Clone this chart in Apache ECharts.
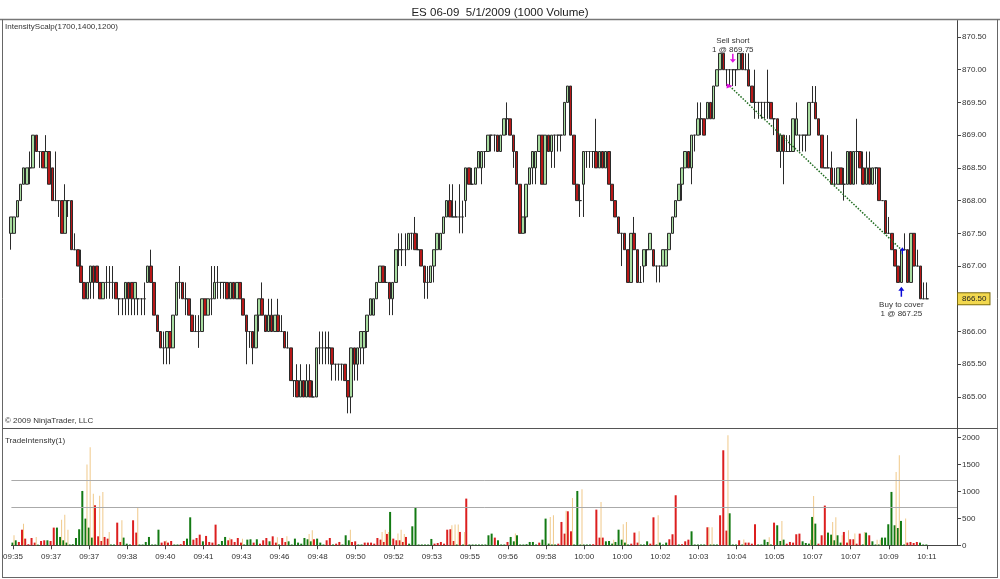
<!DOCTYPE html>
<html><head><meta charset="utf-8">
<script src="https://cdn.jsdelivr.net/npm/echarts@6/dist/echarts.min.js"></script>
<style>html,body{margin:0;padding:0;background:#fff}#c{width:1000px;height:579px}</style>
</head><body><div id="c"></div>
<script>
const tickLabels = ['09:35','09:37','09:37','09:38','09:40','09:41','09:43','09:46','09:48','09:50','09:52','09:53','09:55','09:56','09:58','10:00','10:00','10:02','10:03','10:04','10:05','10:07','10:07','10:09','10:11'];

const opens = [
867.5,867.5,867.75,868,868.25,868.25,868.5,868.5,869,868.75,
868.75,868.5,868.75,868.5,868,868,868,867.5,868,868,
867.25,867.25,867,866.75,866.5,866.75,867,867,866.75,866.5,
866.75,866.75,866.75,866.75,866.5,866.5,866.5,866.75,866.75,866.5,
866.5,866.5,866.5,866.75,867,866.75,866.25,866,865.75,865.75,
866,865.75,866.25,866.75,866.75,866.5,866.5,866.25,866,866,
866,866.5,866.25,866.5,866.5,866.75,866.75,866.75,866.75,866.5,
866.75,866.5,866.75,866.5,866.25,866,866,865.75,866.25,866.5,
866.25,866,866.25,866,866.25,866,866,865.75,865.75,865.25,
865.25,865,865.25,865,865.25,865,865,865.75,865.75,865.75,
865.75,865.75,865.5,865.5,865.5,865.5,865.25,865,865.75,865.5,
865.75,865.75,866,866.25,866.25,866.5,866.75,867,866.75,866.75,
866.5,866.75,867.25,867.25,867.25,867.25,867.5,867.5,867.25,867.25,
867,866.75,866.75,867,867.25,867.25,867.5,867.75,868,867.75,
867.75,867.75,867.75,868,868.5,868.25,868.25,868.5,868.5,868.75,
868.75,869,869,869,868.75,869,869.25,869.25,869,868.75,
868.25,867.5,867.75,868.25,868.5,868.5,868.75,869,868.25,869,
868.75,869,869,869,869,869.5,869.75,869,868.25,868,
868.25,868.75,868.75,868.75,868.75,868.5,868.75,868.5,868.75,868.25,
868,867.75,867.5,867.5,867.25,866.75,867.5,867.25,866.75,867,
867.25,867.25,867.25,867,867,867,867,867.25,867.5,867.75,
868,868.25,868.5,868.75,868.5,869,869,869.25,869.25,869.25,
869.5,869.25,869.75,870,870.25,870,870,870,870,870,
870.25,870,870,869.75,869.5,869.5,869.5,869.5,869.5,869.5,
869.25,869.25,868.75,869,868.75,868.75,868.75,869,869,869,
869,869,869.5,869.5,869.25,869,868.5,868.5,868.5,868.25,
868.25,868.5,868.25,868.25,868.75,868.25,868.75,868.75,868.5,868.25,
868.5,868.25,868.5,868.5,868,868,867.5,867.5,867.25,867,
866.75,867.25,867.25,866.75,867.5,867,867,866.5,866.5];

const closes = [
867.75,867.75,868,868.25,868.5,868.5,868.5,869,868.75,868.75,
868.5,868.75,868.25,868,868,868,867.5,868,868,867.25,
867.25,867,866.75,866.5,866.75,867,866.75,866.75,866.5,866.75,
866.75,866.75,866.75,866.5,866.5,866.5,866.75,866.5,866.5,866.75,
866.5,866.5,866.5,867,866.75,866.25,866,865.75,865.75,866,
865.75,866.25,866.75,866.75,866.5,866.5,866.25,866,866,866,
866.5,866.25,866.5,866.5,866.75,866.75,866.75,866.75,866.5,866.75,
866.5,866.75,866.5,866.25,866,866,865.75,866.25,866.5,866.25,
866,866.25,866,866.25,866,866,865.75,865.75,865.25,865.25,
865,865.25,865,865.25,865,865,865.75,865.75,865.75,865.75,
865.75,865.5,865.5,865.5,865.5,865.25,865,865.75,865.5,865.75,
866,866,866.25,866.5,866.5,866.75,867,866.75,866.75,866.5,
866.75,867.25,867.25,867.25,867.25,867.5,867.5,867.25,867.25,867,
866.75,866.75,867,867.25,867.5,867.5,867.75,868,867.75,867.75,
867.75,867.75,867.75,868.5,868.25,868.25,868.5,868.75,868.75,868.75,
869,869,869,868.75,869,869.25,869.25,869,868.75,868.25,
867.5,867.75,868.25,868.5,868.75,868.75,869,868.25,869,868.75,
869,869,869,869,869.5,869.75,869,868.25,868,868,
868.75,868.75,868.75,868.75,868.5,868.75,868.5,868.75,868.25,868,
867.75,867.5,867.5,867.25,866.75,867.5,867.25,866.75,866.75,867.25,
867.25,867.5,867,867,867,867.25,867.25,867.5,867.75,868,
868.25,868.5,868.75,868.5,869,869,869.25,869.25,869,869.5,
869.25,869.75,870,870.25,870,870,870,870,870,870.25,
870,870,869.75,869.5,869.5,869.5,869.5,869.5,869.5,869.25,
869.25,868.75,869,868.75,868.75,868.75,869.25,869.25,869,869,
869,869.5,869.5,869.25,869,868.5,868.5,868.5,868.25,868.25,
868.5,868.25,868.25,868.75,868.25,868.75,868.75,868.5,868.25,868.5,
868.25,868.5,868.5,868,868,867.5,867.5,867.25,867,866.75,
867.25,867.25,866.75,867.5,867,867,866.5,866.5,866.5];

const lows = [
867.25,867.5,867.75,868,868.25,868.25,868.25,868.5,868.75,868.5,
868.5,868.5,868.25,868,868,867.75,867.5,867.5,867.75,867.25,
867.25,867,866.75,866.5,866.5,866.5,866.5,866.75,866.5,866.5,
866.5,866.5,866.5,866.5,866.25,866.25,866.25,866.25,866.25,866.25,
866.25,866.25,866.25,866.75,866.75,866.25,866,865.75,865.5,865.5,
865.5,865.75,866.25,866.5,866.5,866.25,866.25,866,866,865.75,
866,866.25,866.25,866.25,866.5,866.5,866.5,866.5,866.5,866.5,
866.5,866.5,866.5,866.25,865.5,865.75,865.5,865.75,866,866.25,
866,866,866,866,866,866,865.75,865.75,865.25,865,
865,865,865,865,865,865,865,865.5,865.5,865.5,
865.5,865.25,865.25,865.25,865.25,865.25,864.75,864.75,865.25,865.25,
865.5,865.5,865.75,866.25,866.25,866.5,866.75,866.75,866.75,866.25,
866.25,866.75,867,867,867,867.25,867.25,867.25,867.25,867,
866.5,866.5,866.75,866.75,867.25,867.25,867.5,867.75,867.75,867.75,
867.75,867.5,867.5,867.75,868.25,868.25,868.25,868.5,868.25,868.5,
868.75,868.75,868.75,868.75,868.75,869,869,869,868.5,868.25,
867.5,867.5,867.5,868.25,868.25,868.25,868.75,868.25,868.25,868.75,
868.5,868.5,868.75,868.75,869,869.5,869,868.25,868,867.75,
867.75,868.5,868.5,868.5,868.5,868.5,868.5,868.5,868.25,868,
867.75,867.5,867,867.25,866.75,866.75,867.25,866.75,866.75,866.75,
867,867.25,867,866.75,866.75,867,867,867.25,867.5,867.75,
868,868,868.5,868.5,868.25,868.75,869,869,869,869.25,
869.25,869.25,869.75,870,870,869.75,869.75,869.75,869.75,870,
870,870,869.75,869.5,869.25,869.25,869.25,869.25,869.25,869.25,
869,868.75,868.5,868.25,868.75,868.75,868.75,869,868.75,868.75,
868.75,869,869.5,869.25,869,868.5,868.5,868.5,868.25,868.25,
868.25,868.25,868,868.25,868.25,868.25,868.25,868.5,868.25,868.25,
868.25,868.25,868.25,868,868,867.5,867.5,867.25,867,866.75,
866.75,867.25,866.75,866.75,867,867,866.5,866.5,866.5];

const highs = [
867.75,867.75,868,868.25,868.5,868.5,868.75,869,869,868.75,
868.75,869,868.75,868.5,868.75,868,868,868.25,868,868,
867.5,867.25,867.25,866.75,866.75,867,867,867,866.75,866.75,
867,867,867,866.75,866.5,866.5,866.75,866.75,866.75,866.75,
866.5,866.5,866.75,867,867.25,866.75,866.25,866,866,866,
866,866.25,866.75,867,866.75,866.75,866.5,866.25,866.25,866.25,
866.5,866.5,866.5,867,867,867,866.75,866.75,866.75,866.75,
866.75,866.75,866.75,866.5,866.25,866,866,866.25,866.5,866.75,
866.25,866.5,866.5,866.25,866.5,866.25,866,866,865.75,865.25,
865.5,865.5,865.25,865.5,865.5,865.25,865.75,866,866,866,
866,865.75,865.5,865.5,865.5,865.5,865.25,865.75,865.75,865.75,
866,866,866.25,866.5,866.5,866.75,867,867,867,866.75,
866.75,867.25,867.5,867.5,867.5,867.5,867.5,867.75,867.5,867.25,
867,867,867,867.25,867.5,867.5,867.75,868,868.25,868.25,
868,868.25,868,868.5,868.5,868.5,868.5,868.75,868.75,868.75,
869,869,869,869,869,869.25,869.5,869.25,869,868.75,
868.25,867.75,868.25,868.5,868.75,868.75,869,869,869,869,
869,869,869,869,869.5,869.75,869.75,869,868.25,868.25,
868.75,868.75,868.75,868.75,869.25,868.75,868.75,868.75,868.75,868.25,
868,867.75,867.5,867.5,867.25,867.5,867.75,867.25,867,867.25,
867.25,867.5,867.25,867,867,867.25,867.25,867.5,867.75,868,
868.25,868.5,868.75,868.75,869,869,869.5,869.5,869.25,869.5,
869.5,869.75,870,870.25,870.25,870,870,870,870,870.25,
870.25,870.25,870.25,869.75,870,869.5,869.5,869.5,870,869.5,
869.25,869.25,869,869,869,869,869.25,869.5,869,869,
869,869.5,869.75,869.75,869.25,869,868.5,869,868.75,868.5,
868.5,868.5,868.5,868.75,868.75,868.75,869.25,868.75,868.75,868.75,
868.75,868.5,868.5,868.5,868,868,867.75,867.5,867.25,867,
867.25,867.5,867.25,867.5,867.5,867.25,867,866.75,866.75];

const intensity = [
50,93,62,290,124,20,136,50,12,80,
93,93,80,329,329,155,93,50,15,20,
136,298,1010,496,329,143,744,167,80,155,
124,15,15,421,62,143,30,15,465,236,
15,15,62,155,15,15,290,50,74,50,
80,15,15,20,80,124,520,105,136,198,
74,174,62,50,384,20,80,155,93,112,
62,136,50,15,105,112,50,112,30,93,
136,74,167,50,15,136,62,74,15,124,
50,30,136,112,74,112,124,50,15,93,
136,15,30,62,15,186,93,62,74,15,
15,50,50,50,30,136,105,62,211,620,
124,93,93,62,155,30,353,706,15,15,
15,15,118,31,43,62,30,290,298,80,
15,248,15,868,15,15,15,15,15,15,
186,217,143,93,15,15,62,155,74,186,
15,15,20,62,62,15,50,105,496,31,
15,15,30,434,217,632,260,15,1010,15,
15,15,15,20,663,143,143,74,80,31,
62,290,105,50,15,30,236,50,15,15,
74,30,520,15,50,15,50,112,205,930,
15,20,74,105,260,15,15,15,15,335,
15,15,15,558,1766,273,595,15,15,93,
15,50,50,30,391,15,15,105,62,15,
421,372,80,105,30,62,50,205,217,74,
43,31,527,403,30,186,738,236,198,93,
186,50,248,50,112,112,30,217,15,236,
186,74,15,15,143,143,391,992,372,322,
453,15,50,62,43,62,50,15,15];

const intensityDir = ('ggrrrrrrgr'+'rgrrgggggg'+'ggggggrrrr'+'rggrrgggrr'+'gggggggrrr'+
 'rggrrggrrr'+'grrrrgggrr'+'rrrgggrgrr'+'rgrrgrrggg'+'gggggrgggr'+
 'rgrrgggrrg'+'grrrrrrrrg'+'rrrrrggggg'+'gggrrrrrrr'+'grgrgggggg'+
 'ggrgggrggg'+'ggggggrggg'+'ggrrrrrggg'+'gggrrrrggg'+'gggggrrrgg'+
 'grrggggrrr'+'grrrgggggr'+'gggrrrgggr'+'grrrrggggg'+'rgggrrrrrg'+
 'ggggrrrggg'+'ggrrrrrrgg'+'rggggggggg'+'ggrrrrggg').split('');

const intensityPeak = [
186,0,0,400,0,0,0,155,0,0,
0,0,0,0,0,477,570,290,0,0,
0,0,0,1500,1822,960,0,920,990,0,
248,0,0,0,465,0,0,0,0,700,
0,0,0,0,0,0,0,0,90,0,
0,0,0,0,0,0,0,0,0,0,
0,0,0,0,0,0,0,0,140,0,
0,0,124,0,0,0,0,0,0,0,
0,0,0,150,0,0,167,0,0,0,
0,0,0,211,279,0,0,0,0,0,
0,0,0,0,0,0,290,0,0,0,
0,0,0,0,0,0,248,290,248,0,
0,217,290,211,0,0,0,0,0,0,
0,0,0,0,0,0,0,0,372,385,
385,0,248,0,0,0,0,0,0,0,
0,0,0,0,0,0,0,0,217,0,
0,0,0,0,0,0,0,0,0,527,
558,0,0,0,644,0,880,0,0,1040,
0,0,0,0,0,806,0,0,0,105,
0,0,390,434,0,0,0,260,0,0,
0,0,0,558,0,0,0,0,0,0,
0,0,0,0,0,0,0,0,0,335,
335,0,0,0,0,2045,0,0,0,0,
110,0,0,0,0,0,0,0,150,0,
0,0,453,0,0,0,0,0,0,0,
0,105,918,0,0,0,0,0,434,520,
0,186,0,279,0,217,0,0,248,0,
0,0,105,105,0,0,0,0,1363,1673,
0,496,0,0,0,0,0,0,0];

const priceTicks = [865,865.5,866,866.5,867,867.5,868,868.5,869,869.5,870,870.5];
const intensityTicks = [0,500,1000,1500,2000];
const intensityLevels = [1200,700];
const lastPrice = 866.5;
const sellTrade = {entryIdx:226, entryPrice:869.75, arrowIdx:227, arrowPrice:870.25};
const coverTrade = {exitIdx:280, exitPrice:867.25, arrowPrice:866.5};

const FONT = 'Liberation Sans, Arial, sans-serif';
const totalSlots = 298;
const cats = Array.from({length: totalSlots}, (_, i) => String(i));
const candles = opens.map((o, i) => [o, closes[i], lows[i], highs[i]]);
const GREEN = '#137a13', RED = '#dc1f1f', TAN = '#f0c98a';

const chart = echarts.init(document.getElementById('c'), null, {renderer: 'canvas'});
const xLabel = (v, idx) => (idx % 12 === 0 && tickLabels[idx / 12]) ? tickLabels[idx / 12] : '';

chart.setOption({
  animation: false,
  backgroundColor: '#fff',
  title: {
    text: 'ES 06-09  5/1/2009 (1000 Volume)', left: 'center', top: 2,
    textStyle: {fontFamily: FONT, fontSize: 11.5, fontWeight: 'normal', color: '#222'}
  },
  grid: [
    {left: 9.4, right: 43, top: 20.6, height: 409.1},
    {left: 9.4, right: 43, top: 428, height: 117.3}
  ],
  xAxis: [
    {type: 'category', gridIndex: 0, data: cats, show: false},
    {type: 'category', gridIndex: 1, data: cats,
     axisLine: {show: true, lineStyle: {color: '#444', width: 1}},
     axisTick: {show: true, interval: 11, alignWithLabel: true, length: 4, lineStyle: {color: '#444'}},
     axisLabel: {interval: 11, formatter: xLabel, fontFamily: FONT, fontSize: 8, color: '#333', margin: 7},
     splitLine: {show: false}}
  ],
  yAxis: [
    {type: 'value', gridIndex: 0, position: 'right', min: 864.5, max: 870.75, interval: 0.5,
     axisLine: {show: true, lineStyle: {color: '#444'}},
     axisTick: {show: true, length: 4, lineStyle: {color: '#444'}, customValues: priceTicks},
     axisLabel: {fontFamily: FONT, fontSize: 8, color: '#333', margin: 5, customValues: priceTicks,
       formatter: v => (v > 864.9 && Math.abs(v * 2 - Math.round(v * 2)) < 1e-6) ? v.toFixed(2) : ''},
     splitLine: {show: false}},
    {type: 'value', gridIndex: 1, position: 'right', min: 0, max: 2180, interval: 500,
     axisLine: {show: true, lineStyle: {color: '#444'}},
     axisTick: {show: true, length: 4, lineStyle: {color: '#444'}, customValues: intensityTicks},
     axisLabel: {fontFamily: FONT, fontSize: 8, color: '#333', margin: 5, customValues: intensityTicks,
       formatter: v => (v % 500 === 0) ? String(v) : ''},
     splitLine: {show: false}}
  ],
  series: [
    {
      type: 'candlestick', xAxisIndex: 0, yAxisIndex: 0, data: candles, barWidth: 3,
      itemStyle: {color: '#a8dca0', color0: '#b81818', borderColor: '#2a2a2a', borderColor0: '#2a2a2a', borderWidth: 1},
      emphasis: {disabled: true},
      markLine: {
        silent: true, symbol: 'none', animation: false,
        data: [
          [{coord: [String(sellTrade.entryIdx), sellTrade.entryPrice]}, {coord: [String(coverTrade.exitIdx), coverTrade.exitPrice]}]
        ],
        lineStyle: {color: '#1e6b1e', type: 'dotted', width: 1.5},
        label: {show: false}
      },
      markPoint: {
        silent: true, animation: false,
        data: [
          {coord: [String(sellTrade.arrowIdx), sellTrade.arrowPrice], symbol: 'path://M3,0 L5,0 L5,6 L8,6 L4,10 L0,6 L3,6 Z',
           symbolSize: [6, 9], symbolOffset: [0, 5], itemStyle: {color: '#e010e0'},
           label: {show: true, position: 'top', distance: 0, formatter: 'Sell short\n1 @ 869.75',
             fontFamily: FONT, fontSize: 8, color: '#333', lineHeight: 9}},
          {coord: [String(sellTrade.entryIdx), sellTrade.entryPrice], symbol: 'triangle', symbolRotate: -90,
           symbolSize: [5, 6], itemStyle: {color: '#e010e0'}, label: {show: false}},
          {coord: [String(coverTrade.exitIdx), coverTrade.arrowPrice], symbol: 'path://M4,0 L8,4 L5,4 L5,10 L3,10 L3,4 L0,4 Z',
           symbolSize: [6, 10], symbolOffset: [0, -7], itemStyle: {color: '#0a0ad8'},
           label: {show: true, position: 'bottom', distance: 4, formatter: 'Buy to cover\n1 @ 867.25',
             fontFamily: FONT, fontSize: 8, color: '#333', lineHeight: 9}},
          {coord: [String(coverTrade.exitIdx), coverTrade.exitPrice], symbol: 'path://M4,0 L8,4 L5,4 L5,8 L3,8 L3,4 L0,4 Z',
           symbolSize: [5, 7], symbolOffset: [1, 1], itemStyle: {color: '#0a0ad8'}, label: {show: false}}
        ]
      }
    },
    {
      type: 'line', xAxisIndex: 0, yAxisIndex: 0, data: [], silent: true,
      markLine: {
        silent: true, symbol: 'none', animation: false,
        lineStyle: {color: 'rgba(0,0,0,0)', width: 0},
        data: [{yAxis: lastPrice}],
        label: {show: true, position: 'end', distance: 1, formatter: lastPrice.toFixed(2),
          backgroundColor: '#f2d84e', borderColor: '#7a6a10', borderWidth: 1, padding: [2, 3, 1, 4],
          fontFamily: FONT, fontSize: 8, color: '#222'}
      }
    },
    {
      type: 'bar', xAxisIndex: 1, yAxisIndex: 1, barWidth: 2, barGap: '0%',
      data: intensity.map((v, i) => ({value: v, itemStyle: {color: intensityDir[i] === 'g' ? GREEN : RED}})),
      emphasis: {disabled: true},
      markLine: {
        silent: true, symbol: 'none', animation: false, label: {show: false},
        lineStyle: {color: '#aaaaaa', type: 'solid', width: 1},
        data: intensityLevels.map(v => ({yAxis: v}))
      }
    },
    {
      type: 'bar', xAxisIndex: 1, yAxisIndex: 1, barWidth: 1, barGap: '0%',
      data: intensityPeak, itemStyle: {color: TAN}, emphasis: {disabled: true}
    }
  ],
  graphic: [
    {type: 'line', shape: {x1: 0, y1: 19.5, x2: 1000, y2: 19.5}, style: {stroke: '#777', lineWidth: 1.5}, silent: true},
    {type: 'line', shape: {x1: 2.5, y1: 19.5, x2: 2.5, y2: 578}, style: {stroke: '#666', lineWidth: 1}, silent: true},
    {type: 'line', shape: {x1: 997.5, y1: 19.5, x2: 997.5, y2: 578}, style: {stroke: '#666', lineWidth: 1}, silent: true},
    {type: 'line', shape: {x1: 2.5, y1: 428.5, x2: 997.5, y2: 428.5}, style: {stroke: '#555', lineWidth: 1.2}, silent: true},
    {type: 'line', shape: {x1: 2.5, y1: 577.5, x2: 997.5, y2: 577.5}, style: {stroke: '#666', lineWidth: 1}, silent: true},
    {type: 'text', left: 5, top: 23, style: {text: 'IntensityScalp(1700,1400,1200)', font: '8px ' + FONT, fill: '#333'}, silent: true},
    {type: 'text', left: 5, top: 417, style: {text: '\u00a9 2009 NinjaTrader, LLC', font: '8px ' + FONT, fill: '#333'}, silent: true},
    {type: 'text', left: 5, top: 437, style: {text: 'TradeIntensity(1)', font: '8px ' + FONT, fill: '#333'}, silent: true}
  ]
});
</script>
</body></html>
